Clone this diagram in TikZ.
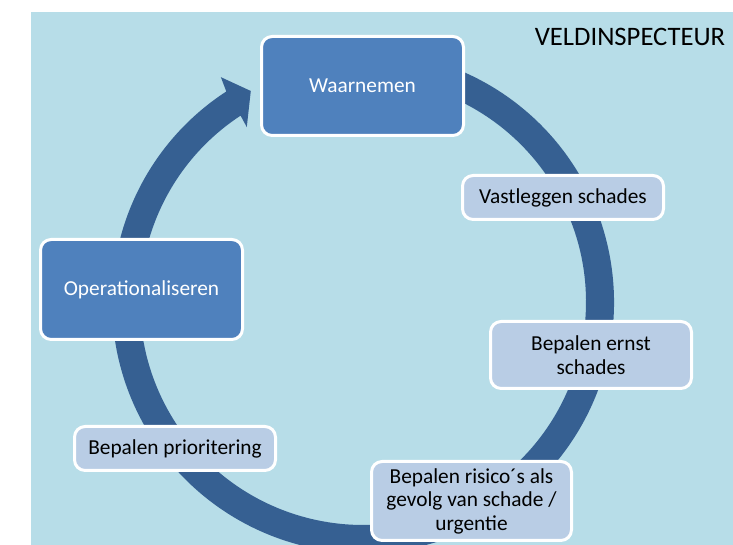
\documentclass[tikz,border=0pt]{standalone}
\usepackage{fontspec}
\setmainfont{Carlito}
\definecolor{bgblue}{RGB}{183,221,232}
\definecolor{ringblue}{RGB}{54,96,146}
\definecolor{darkbox}{RGB}{79,129,189}
\definecolor{lightbox}{RGB}{185,205,229}
\tikzset{
  boxbase/.style={draw=white, line width=2.25pt, rounded corners=8pt, align=center, inner sep=0pt,
    font=\fontsize{16}{17.6}\selectfont},
  darkstep/.style={boxbase, fill=darkbox, text=white},
  lightstep/.style={boxbase, fill=lightbox, text=black},
}
\begin{document}
\begin{tikzpicture}[x=0.75pt,y=0.75pt]
\useasboundingbox (0,0) rectangle (733,545);
\clip (0,0) rectangle (733,545);
\fill[bgblue] (31,0) rectangle (733,533);
\coordinate (c) at (363,243);
% ring with arrowhead
\fill[ringblue] ([shift={(100:251)}]c) arc[start angle=100, end angle=-237, radius=251]
  -- ([shift={(-237.7:266)}]c) -- ([shift={(-242:239)}]c) -- ([shift={(-236.4:210)}]c)
  -- ([shift={(-236.7:223)}]c) arc[start angle=-236.7, end angle=100, radius=223] -- cycle;
% boxes
\node[darkstep, minimum width=151.5pt, minimum height=74.25pt] (waar) at (362.5,459) {Waarnemen};
\node[darkstep, minimum width=151.5pt, minimum height=75pt] (oper) at (141.5,255.5) {Operationaliseren};
\node[lightstep, minimum width=150.75pt, minimum height=33pt] (vast) at (563,347.5) {Vastleggen schades};
\node[lightstep, minimum width=150.75pt, minimum height=50.25pt] (ernst) at (591,190) {Bepalen ernst\\schades};
\node[lightstep, minimum width=150.75pt, minimum height=33pt] (prio) at (175,96.5) {Bepalen prioritering};
\node[lightstep, minimum width=150pt, minimum height=59.25pt] (risico) at (471.5,44) {Bepalen risico´s als\\gevolg van schade /\\urgentie};
\node[font=\fontsize{20}{24}\selectfont, inner sep=0pt] (title) at (630,508) {VELDINSPECTEUR};
\end{tikzpicture}
\end{document}
